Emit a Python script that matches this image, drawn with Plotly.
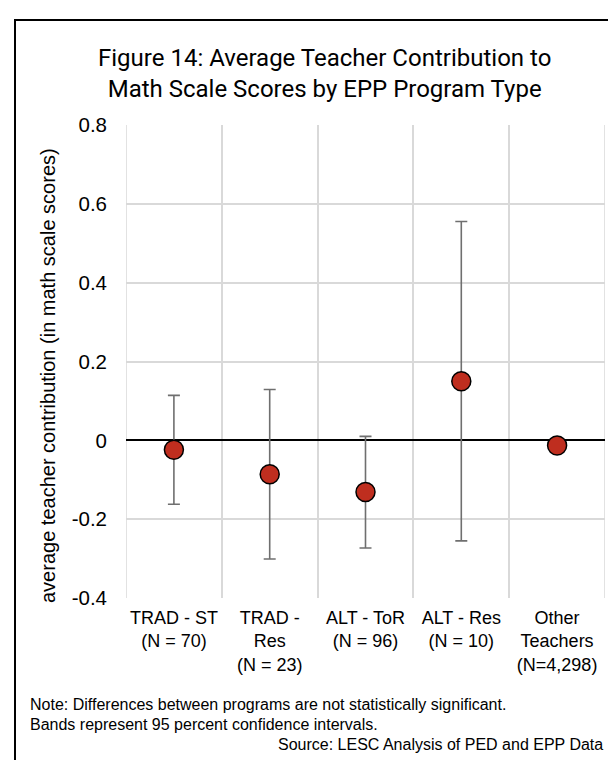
import plotly.graph_objects as go

categories = ["TRAD - ST<br>(N = 70)", "TRAD -<br>Res<br>(N = 23)", "ALT - ToR<br>(N = 96)",
              "ALT - Res<br>(N = 10)", "Other<br>Teachers<br>(N=4,298)"]
means = [-0.024, -0.086, -0.131, 0.150, -0.013]
upper = [0.114, 0.129, 0.010, 0.555, -0.013]
lower = [-0.162, -0.301, -0.273, -0.255, -0.013]
yticks = [-0.4, -0.2, 0, 0.2, 0.4, 0.6, 0.8]
yticklabels = ["-0.4", "-0.2", "0", "0.2", "0.4", "0.6", "0.8"]

xpos = list(range(len(categories)))
err_plus = [u - m for u, m in zip(upper, means)]
err_minus = [m - l for m, l in zip(means, lower)]

W, H = 616, 760
L, R, T, B = 118, 19, 117, 170

fig = go.Figure()
fig.add_trace(go.Scatter(
    x=xpos, y=means, mode="markers",
    marker=dict(size=19, color="#BF2E1F", line=dict(color="black", width=1.5)),
    error_y=dict(type="data", symmetric=False, array=err_plus, arrayminus=err_minus,
                 color="#6f6f6f", thickness=1.6, width=6),
    showlegend=False, hoverinfo="skip",
))

base_font = "Liberation Sans, Arial, sans-serif"
fig.update_layout(
    width=W, height=H,
    margin=dict(l=L, r=R, t=T, b=B),
    paper_bgcolor="white", plot_bgcolor="white",
    font=dict(family=base_font, size=18, color="black"),
    xaxis=dict(range=[-0.5, 4.5], tickvals=xpos, ticktext=categories, showgrid=False,
               ticks="", zeroline=False, showline=False,
               tickfont=dict(size=18), fixedrange=True, ticklabelstandoff=7,
               minor=dict(tick0=0.5, dtick=1, showgrid=True, gridcolor="#d9d9d9", gridwidth=1.5)),
    yaxis=dict(range=[-0.4, 0.8], tickvals=yticks, ticktext=yticklabels, showgrid=True,
               gridcolor="#d9d9d9", gridwidth=1.5, zeroline=True, zerolinecolor="black",
               zerolinewidth=1.6, ticks="", tickfont=dict(size=20.5), ticklabelstandoff=18,
               fixedrange=True),
)

fig.add_shape(type="line", xref="x", yref="paper", x0=-0.5, x1=-0.5, y0=0, y1=1,
              line=dict(color="#d9d9d9", width=1.5), layer="below")
fig.add_shape(type="line", xref="x", yref="paper", x0=4.5, x1=4.5, y0=0, y1=1,
              line=dict(color="#d9d9d9", width=1.5), layer="below")

pw = W - L - R
ph = H - T - B
def px(x):
    return (x - L) / pw
def py(y):
    return (H - B - y) / ph

fig.add_shape(type="rect", xref="paper", yref="paper",
              x0=px(7), x1=px(607), y0=py(12), y1=py(762),
              line=dict(color="black", width=2), fillcolor="rgba(0,0,0,0)")

title_font = "Roboto, Liberation Sans, sans-serif"
fig.add_annotation(xref="paper", yref="paper", x=px(316), y=py(65), xanchor="center", yanchor="middle",
                   text="Figure 14: Average Teacher Contribution to<br>Math Scale Scores by EPP Program Type",
                   showarrow=False, font=dict(family=title_font, size=24, color="black"), align="center")

fig.add_annotation(xref="paper", yref="paper", x=px(40), y=py(368), xanchor="center", yanchor="middle",
                   text="average teacher contribution (in math scale scores)", textangle=-90,
                   showarrow=False, font=dict(size=20))

notes = ["Note: Differences between programs are not statistically significant.",
         "Bands represent 95 percent confidence intervals."]
fig.add_annotation(xref="paper", yref="paper", x=px(20), y=py(696), xanchor="left", yanchor="middle",
                   text=notes[0], showarrow=False, font=dict(size=16))
fig.add_annotation(xref="paper", yref="paper", x=px(20), y=py(716), xanchor="left", yanchor="middle",
                   text=notes[1], showarrow=False, font=dict(size=16))
fig.add_annotation(xref="paper", yref="paper", x=px(597), y=py(736), xanchor="right", yanchor="middle",
                   text="Source: LESC Analysis of PED and EPP Data", showarrow=False, font=dict(size=16))

fig.write_html("out.html")
